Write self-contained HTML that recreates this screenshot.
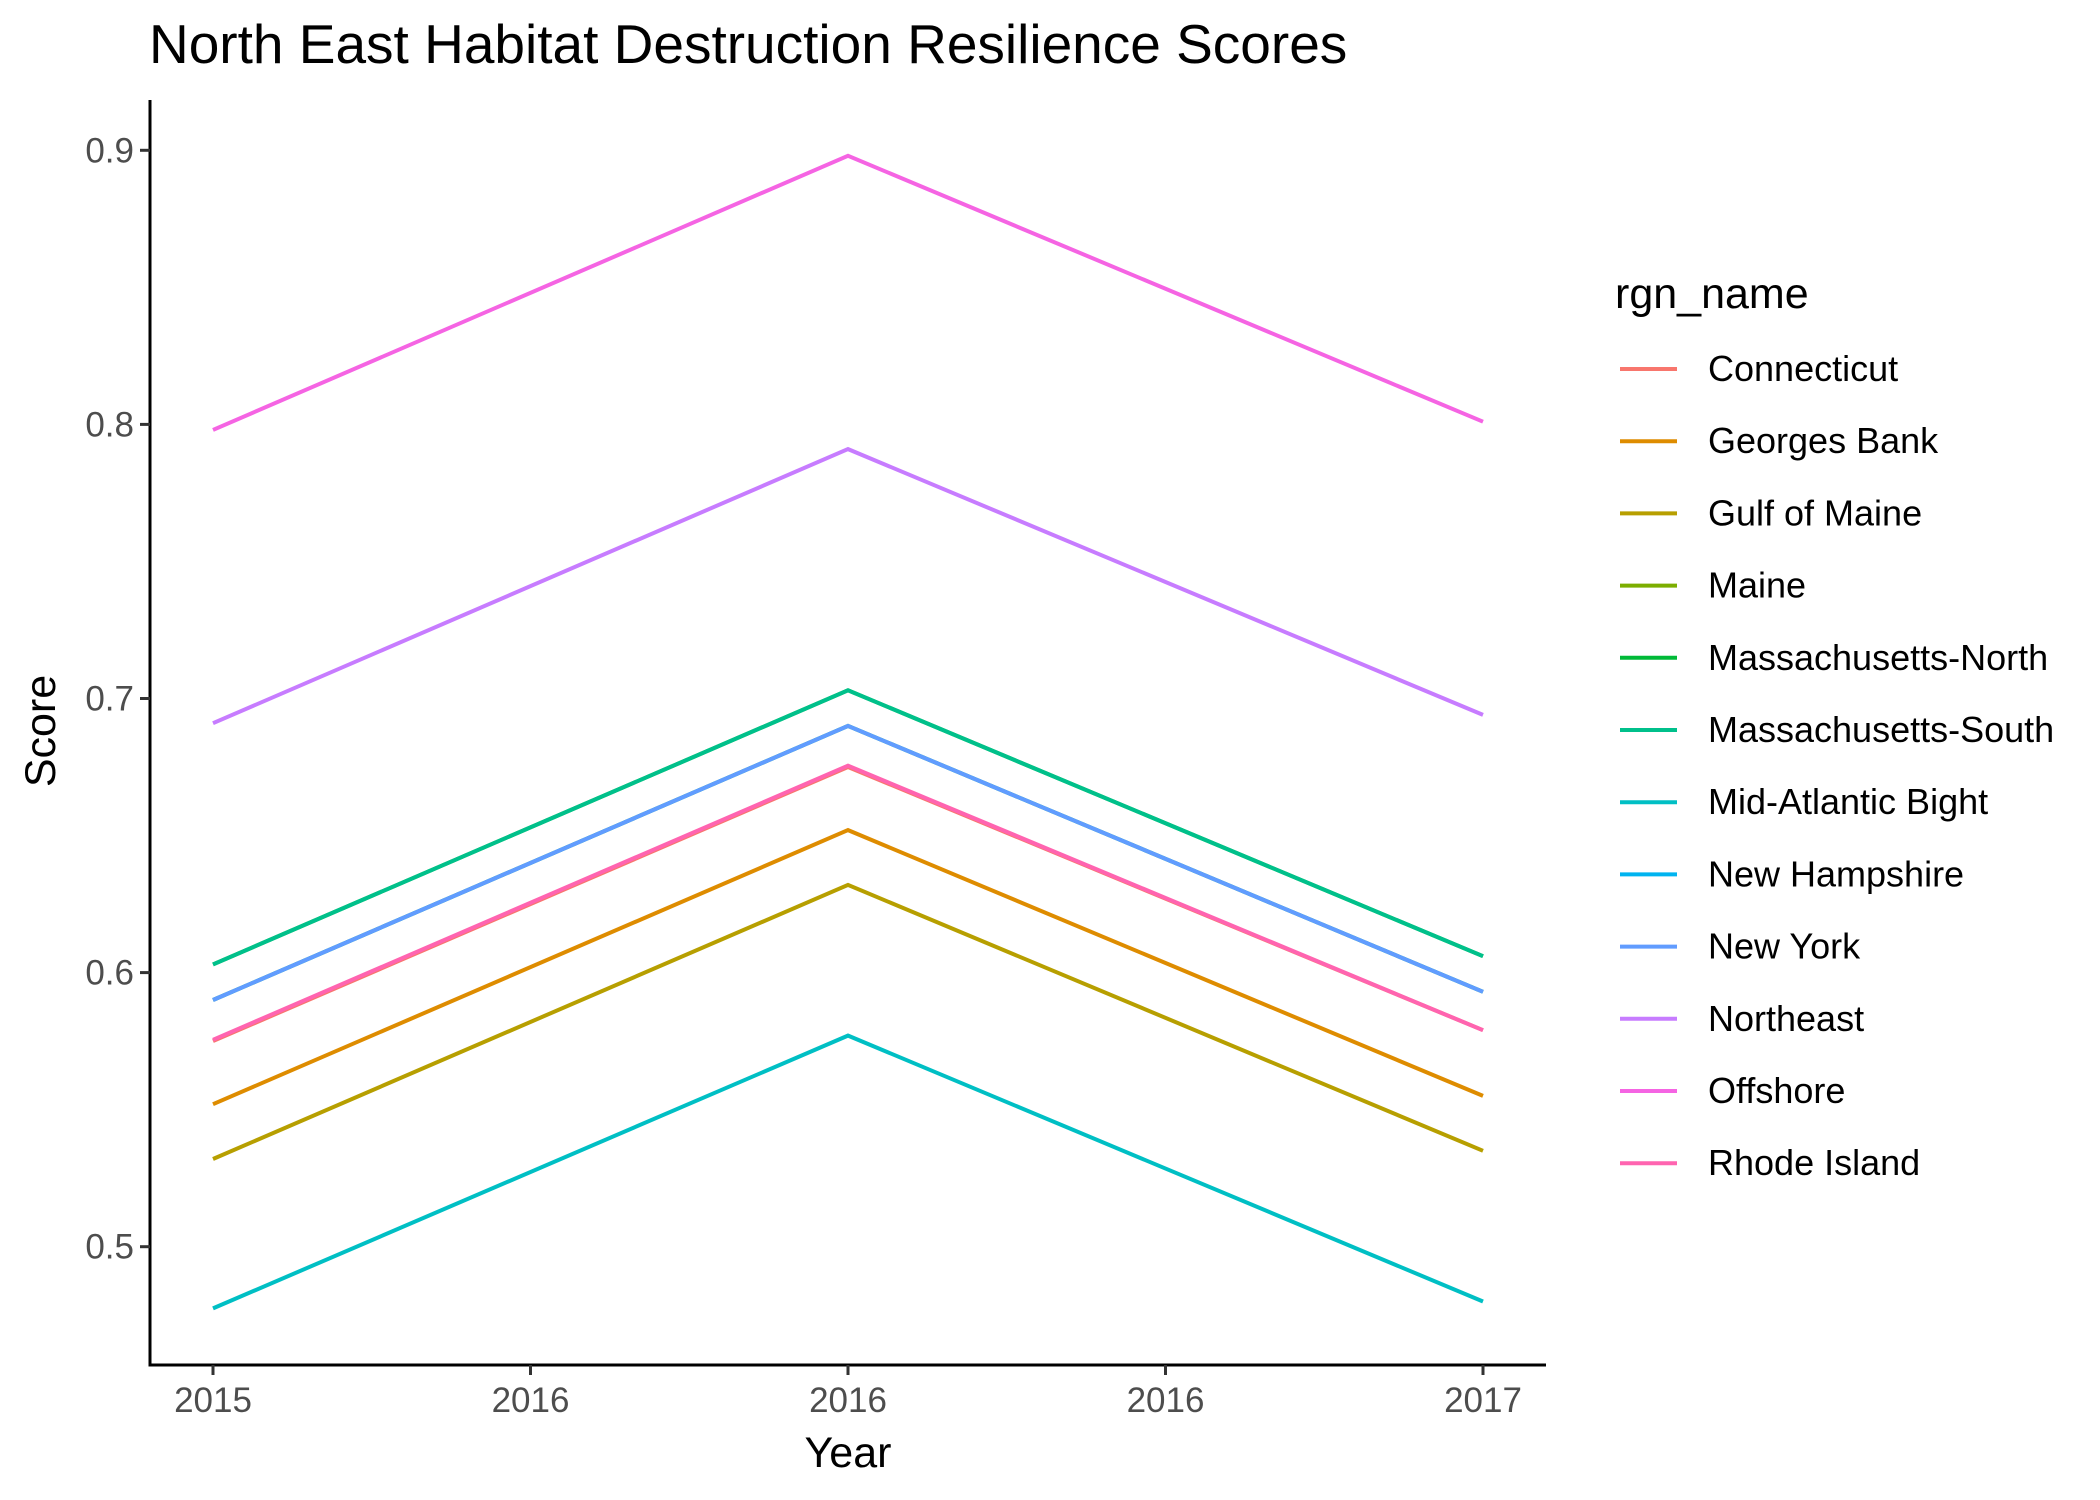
<!DOCTYPE html>
<html><head><meta charset="utf-8"><style>
body{margin:0;background:#fff}
svg{display:block;font-family:"Liberation Sans",Arial,sans-serif}
</style></head><body>
<svg id="chart" width="2100" height="1500" viewBox="0 0 2100 1500">
<text x="149" y="63" font-size="55" fill="#000">North East Habitat Destruction Resilience Scores</text>
<g id="marks"></g>
<g id="axes"></g>
<text x="848" y="1467" font-size="43" text-anchor="middle" fill="#000">Year</text>
<text transform="translate(55,731) rotate(-90)" font-size="43" text-anchor="middle" fill="#000">Score</text>
<text x="1615" y="308" font-size="43" fill="#000">rgn_name</text>
<g id="legend"></g>
</svg>
<script>
const regions = ["Connecticut","Georges Bank","Gulf of Maine","Maine","Massachusetts-North","Massachusetts-South","Mid-Atlantic Bight","New Hampshire","New York","Northeast","Offshore","Rhode Island"];
const colors = ["#F8766D","#DE8C00","#B79F00","#7CAE00","#00BA38","#00C08B","#00BFC4","#00B4F0","#619CFF","#C77CFF","#F564E3","#FF64B0"];
const years = [2015, 2016, 2017];
const v2015 = [0.575, 0.552, 0.532, 0.590, 0.603, 0.603, 0.4775, 0.590, 0.590, 0.691, 0.798, 0.5755];
const v2016 = [0.675, 0.652, 0.632, 0.690, 0.703, 0.703, 0.577, 0.690, 0.690, 0.791, 0.898, 0.6755];
const v2017 = [0.579, 0.555, 0.535, 0.593, 0.606, 0.606, 0.480, 0.593, 0.593, 0.694, 0.801, 0.579];
const xTicks = [2015, 2015.5, 2016, 2016.5, 2017];
const xTickLabels = ["2015","2016","2016","2016","2017"];
const yTicks = [0.5, 0.6, 0.7, 0.8, 0.9];
const yTickLabels = ["0.5","0.6","0.7","0.8","0.9"];

const NS = "http://www.w3.org/2000/svg";
const xs = v => 213 + (v - 2015) / 2 * (1483 - 213);
const ys = v => 1246.7 - (v - 0.5) / 0.4 * (1246.7 - 150.3);
function mk(tag, attrs, parent){const e=document.createElementNS(NS,tag);for(const k in attrs)e.setAttribute(k,attrs[k]);parent.appendChild(e);return e;}

const marks = document.getElementById('marks');
regions.forEach((r,i)=>{
  const vals=[v2015[i],v2016[i],v2017[i]];
  const pts=years.map((y,j)=>xs(y).toFixed(1)+","+ys(vals[j]).toFixed(1)).join(" ");
  const pl=mk('polyline',{points:pts,fill:'none',stroke:colors[i],'stroke-width':4},marks);
  
  
});

const axes=document.getElementById('axes');
const ya=mk('line',{x1:150,y1:100,x2:150,y2:1366,stroke:'#000','stroke-width':3},axes);


const xa=mk('line',{x1:148.5,y1:1365,x2:1546,y2:1365,stroke:'#000','stroke-width':3},axes);


xTicks.forEach((t,i)=>{
  const tk=mk('line',{x1:xs(t),y1:1365,x2:xs(t),y2:1375,stroke:'#333','stroke-width':3},axes);
  
  
  const tx=mk('text',{x:xs(t),y:1412,'font-size':35,'text-anchor':'middle',fill:'#4D4D4D'},axes);
  tx.textContent=xTickLabels[i];
  
  
});
yTicks.forEach((t,i)=>{
  const tk=mk('line',{x1:140,y1:ys(t),x2:150,y2:ys(t),stroke:'#333','stroke-width':3},axes);
  
  
  const tx=mk('text',{x:134,y:ys(t)+12,'font-size':35,'text-anchor':'end',fill:'#4D4D4D'},axes);
  tx.textContent=yTickLabels[i];
  
  
});

const lg=document.getElementById('legend');
regions.forEach((r,i)=>{
  const y=369+i*72.2;
  const g=mk('g',{},lg);
  
  
  mk('line',{x1:1620,y1:y,x2:1677,y2:y,stroke:colors[i],'stroke-width':4},g);
  const t=mk('text',{x:1708,y:y+12,'font-size':36,fill:'#000'},g);
  t.textContent=r;
});
</script>
</body></html>
